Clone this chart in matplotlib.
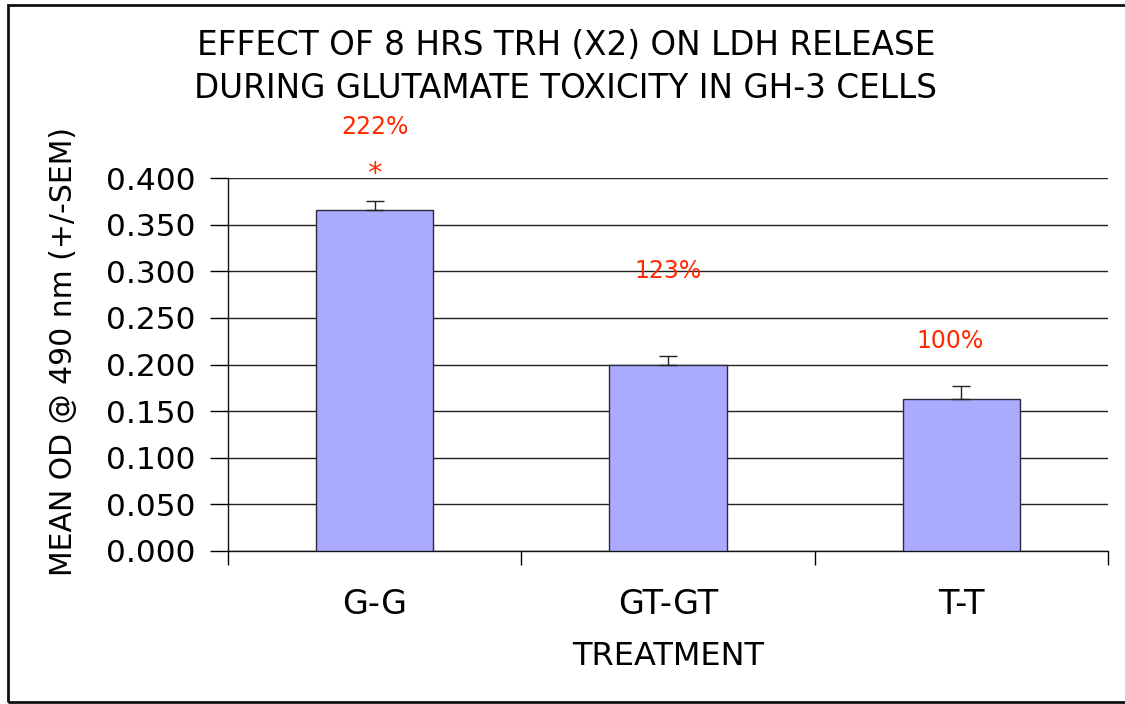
import matplotlib.pyplot as plt
import numpy as np
from matplotlib.patches import Rectangle

plt.switch_backend("Agg")
plt.rcParams["font.family"] = ["DejaVu Sans"]

treatments = ["G-G", "GT-GT", "T-T"]
mean_od = [0.366, 0.200, 0.163]
sem = [0.009, 0.009, 0.014]
pct_labels = ["222%", "123%", "100%"]
pct_x = [0.0, 1.0, 1.96]
pct_y = [0.455, 0.300, 0.225]
star_labels = ["*", "", ""]

fig = plt.figure(figsize=(11.25, 7.04), dpi=100)
ax = fig.add_axes([228 / 1125, 1 - 551 / 704, 880 / 1125, 373 / 704])

x = np.arange(len(treatments))
ax.bar(x, mean_od, width=0.40, color="#AAAAFF", edgecolor="#2b2b40", linewidth=1.0, zorder=3)
ax.errorbar(x, mean_od, yerr=[np.zeros(len(sem)), sem], fmt="none", ecolor="#222222",
            elinewidth=1.0, capsize=6.5, capthick=1.0, zorder=4)

ax.set_xlim(-0.5, 2.5)
ax.set_ylim(0, 0.4)
yt = np.arange(0, 0.401, 0.05)
ax.set_yticks(yt)
ax.set_yticklabels([f"{v:.3f}" for v in yt], fontsize=22.5)
ax.yaxis.grid(True, color="#222222", linewidth=1.0, zorder=0)
ax.set_axisbelow(True)

ax.set_xticks(x)
ax.set_xticklabels(treatments, fontsize=24)
ax.set_xticks(np.arange(-0.5, 2.6, 1.0), minor=True)
ax.tick_params(axis="x", which="major", length=0, pad=27)
ax.tick_params(axis="x", which="minor", length=10, width=1.0, direction="out")
ax.tick_params(axis="y", length=13, width=1.0, direction="out", pad=10.5)

for side in ["top", "right"]:
    ax.spines[side].set_visible(False)
for side in ["left", "bottom"]:
    ax.spines[side].set_linewidth(1.0)
    ax.spines[side].set_color("#111111")

ax.set_xlabel("TREATMENT", fontsize=23)
ax.xaxis.set_label_coords(0.5, -(641 - 551) / 373)
ax.set_ylabel("MEAN OD @ 490 nm (+/-SEM)", fontsize=21.5)
ax.yaxis.set_label_coords(-(228 - 64) / 880, (551 - 352) / 373)
ax.yaxis.label.set_va("center")

for xi, yi, lab in zip(pct_x, pct_y, pct_labels):
    ax.text(xi, yi, lab, color="#FF2A00", fontsize=17, ha="center", va="center", clip_on=False)
for xi, lab in zip(x, star_labels):
    if lab:
        ax.text(xi, 0.396, lab, color="#FF2A00", fontsize=21, ha="center", va="baseline", clip_on=False)

fig.text(566 / 1125, 1 - 67 / 704,
         "EFFECT OF 8 HRS TRH (X2) ON LDH RELEASE\nDURING GLUTAMATE TOXICITY IN GH-3 CELLS",
         fontsize=23.5, ha="center", va="center", linespacing=1.42)

fig.patches.append(Rectangle((8 / 1125, 2 / 704), 1.2, 697 / 704, transform=fig.transFigure,
                             fill=False, edgecolor="#111111", linewidth=2.0))

fig.savefig("out.png", dpi=100)
